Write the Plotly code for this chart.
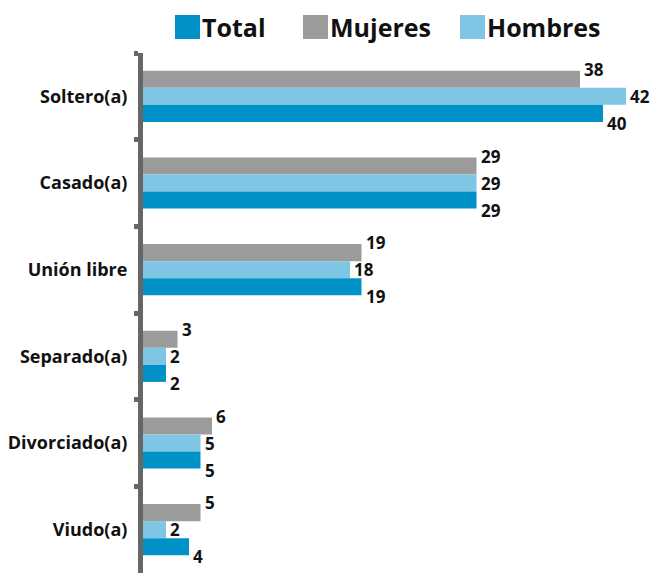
import plotly.graph_objects as go

categories = ["Soltero(a)", "Casado(a)", "Unión libre", "Separado(a)", "Divorciado(a)", "Viudo(a)"]
mujeres = [38, 29, 19, 3, 6, 5]
hombres = [42, 29, 18, 2, 5, 2]
total = [40, 29, 19, 2, 5, 4]

series_names = ["Mujeres", "Hombres", "Total"]
series_values = [mujeres, hombres, total]
series_colors = ["#9b9b9b", "#7fc5e4", "#0091c6"]
label_yshift = [27, 0, -27]

W, H = 654, 573
L, R, T, B = 143, 5, 53, 0
PW, PH = W - L - R, H - T - B
FONT = "Open Sans"

fig = go.Figure()
for name, vals, col in zip(series_names, series_values, series_colors):
    fig.add_trace(go.Bar(
        y=categories, x=vals, name=name, orientation="h",
        marker=dict(color=col, line=dict(width=0)),
        showlegend=False, hoverinfo="x+name",
    ))

annotations = []
for vals, ys in zip(series_values, label_yshift):
    for c, v in zip(categories, vals):
        annotations.append(dict(
            x=v, y=c, xref="x", yref="y", text=str(v), showarrow=False,
            xanchor="left", yanchor="middle", xshift=2, yshift=ys,
            font=dict(family=FONT, size=17, color="#111", weight="bold"),
        ))

def px_x(px):
    return (px - L) / PW

def px_y(py):
    return (H - B - py) / PH

# custom legend
legend_items = [("Total", "#0091c6", 175), ("Mujeres", "#9b9b9b", 303), ("Hombres", "#7fc5e4", 460)]
shapes = []
for name, col, x0 in legend_items:
    shapes.append(dict(type="rect", xref="paper", yref="paper",
                       x0=px_x(x0), x1=px_x(x0 + 25), y0=px_y(39), y1=px_y(15),
                       fillcolor=col, line=dict(width=0)))
    annotations.append(dict(
        x=px_x(x0 + 25), y=px_y(27), xref="paper", yref="paper", text=name,
        showarrow=False, xanchor="left", yanchor="middle",
        font=dict(family=FONT, size=25, color="#111", weight="bold"),
    ))

fig.update_layout(
    width=W, height=H,
    margin=dict(l=L, r=R, t=T, b=B, pad=0),
    barmode="group", bargap=0.41, bargroupgap=0,
    plot_bgcolor="white", paper_bgcolor="white",
    annotations=annotations, shapes=shapes,
    showlegend=False,
    xaxis=dict(visible=False, range=[0, 44], fixedrange=True),
    yaxis=dict(
        type="category", autorange="reversed",
        showline=True, linecolor="#666", linewidth=5,
        ticks="outside", tickson="boundaries", ticklen=4, tickwidth=5, tickcolor="#666",
        showgrid=False, zeroline=False, automargin=False,
        tickfont=dict(family=FONT, size=18, color="#111", weight="bold"),
        ticklabelstandoff=7,
    ),
)

fig.write_html(
    "out.html",
    config={"displayModeBar": False},
    post_script="document.body.style.margin='0';document.body.style.overflow='hidden';",
)
